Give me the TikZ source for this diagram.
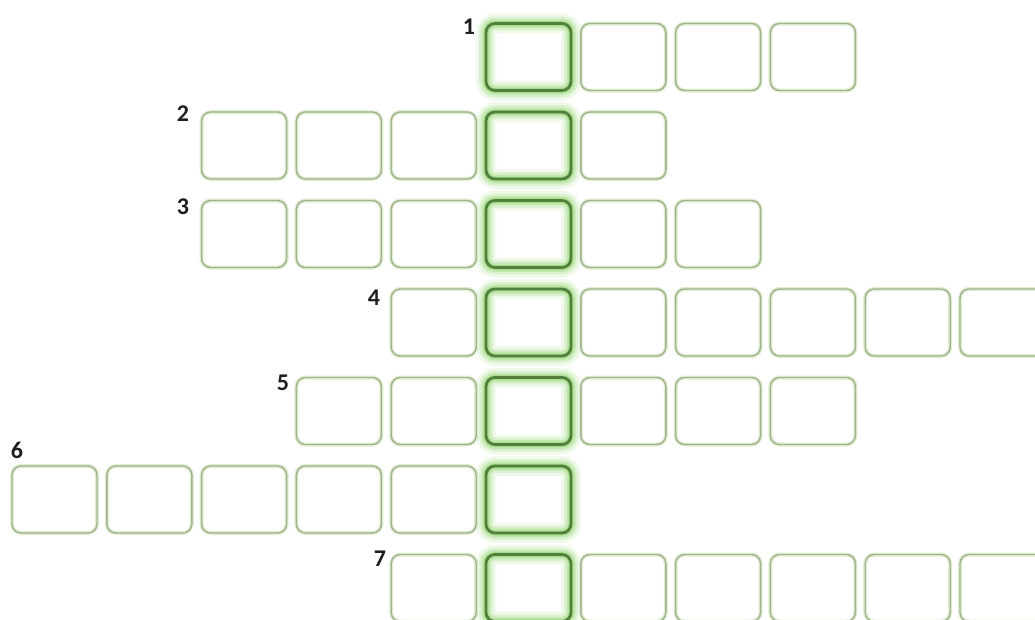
\documentclass[tikz,border=0pt]{standalone}
\usepackage{fontspec}
\setmainfont{Carlito}
\definecolor{cellline}{RGB}{160,178,142}
\definecolor{cellhalo}{RGB}{225,238,210}
\definecolor{keyline}{RGB}{82,128,62}
\definecolor{keyglow}{RGB}{140,212,100}
\definecolor{numc}{RGB}{30,30,30}
\tikzset{
  cell/.style={rectangle, rounded corners=9pt, minimum width=85pt, minimum height=67pt,
    inner sep=0pt, draw=cellline, line width=1.4pt,
    preaction={draw=cellhalo, line width=4pt}},
  keycell/.style={rectangle, rounded corners=9pt, minimum width=85pt, minimum height=67pt,
    inner sep=0pt, draw=keyline, line width=2.8pt,
    preaction={draw=keyglow, line width=20pt, opacity=0.12},
    preaction={draw=keyglow, line width=14pt, opacity=0.2},
    preaction={draw=keyglow, line width=9pt, opacity=0.3},
    preaction={draw=keyglow, line width=5pt, opacity=0.5}},
  num/.style={font=\bfseries\fontsize{24}{24}\selectfont, text=numc, inner sep=0pt}
}
\begin{document}
\begin{tikzpicture}[x=1pt,y=-1pt]
\useasboundingbox (0,0) rectangle (1035,619);
\fill[white] (0,0) rectangle (1035,619);
\clip (0,0) rectangle (1035,619);
\foreach \r/\a/\b in {1/5/8, 2/2/6, 3/2/7, 4/4/10, 5/3/8, 6/0/5, 7/4/10} {
  \foreach \k in {\a,...,\b} {
    \ifnum\k=5
      \node[keycell] (b-\r-\k) at ({54.5+94.8*\k},{57+88.5*(\r-1)}) {};
    \else
      \node[cell] (b-\r-\k) at ({54.5+94.8*\k},{57+88.5*(\r-1)}) {};
    \fi
  }
}
\node[num] (n1) at (469,27) {1};
\node[num] (n2) at (183,114) {2};
\node[num] (n3) at (183,207) {3};
\node[num] (n4) at (374,298) {4};
\node[num] (n5) at (283,383) {5};
\node[num] (n6) at (17,450) {6};
\node[num] (n7) at (380,559) {7};
\end{tikzpicture}
\end{document}
